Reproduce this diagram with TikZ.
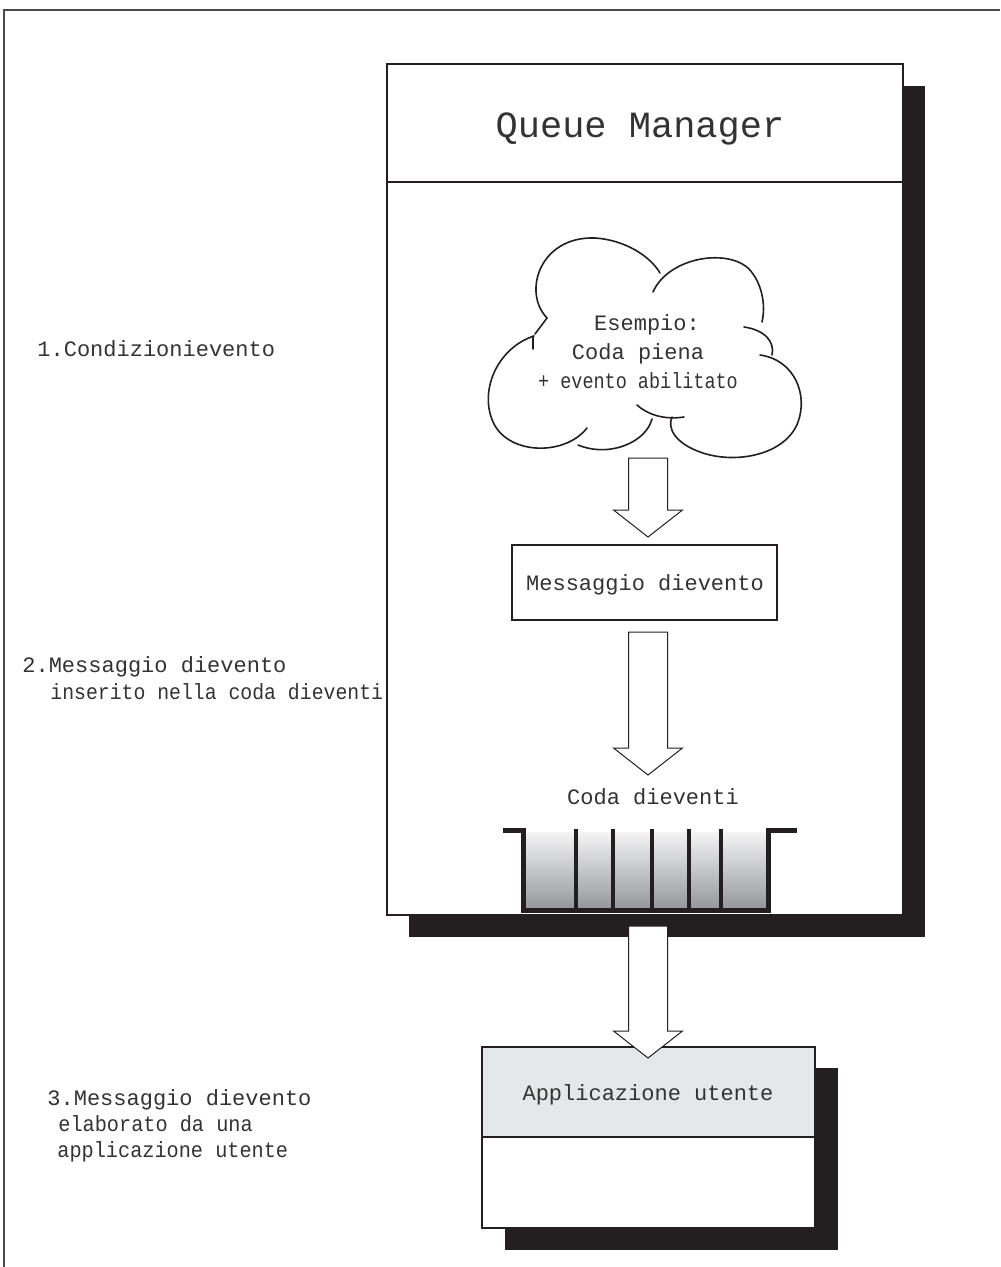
\documentclass[tikz,border=0pt]{standalone}
\usepackage{fontspec}
\setmainfont{Liberation Mono}
\newfontfamily\condA[FakeStretch=0.9]{Liberation Mono}
\newfontfamily\condB[FakeStretch=0.92]{Liberation Mono}
\newfontfamily\condC[FakeStretch=0.84]{Liberation Mono}
\usetikzlibrary{calc}
\definecolor{ink}{HTML}{231F20}
\definecolor{txt}{HTML}{333333}
\definecolor{appgray}{HTML}{E6E7E8}
\definecolor{qtop}{HTML}{F4F4F5}
\definecolor{qbot}{HTML}{939598}
\newcommand{\blkarrow}[2]{%
  \draw[blockarrow] ($(#1)+(-19.5,0)$) -- ($(#1)+(19.5,0)$) -- ($(#2)+(19.5,-27)$)
   -- ($(#2)+(34.5,-27)$) -- (#2) -- ($(#2)+(-34.5,-27)$) -- ($(#2)+(-19.5,-27)$) -- cycle;}
\begin{document}
\begin{tikzpicture}[x=0.5pt,y=-0.5pt,
  lbl/.style={font=\fontsize{11pt}{13pt}\selectfont, text=txt, inner sep=0pt},
  title/.style={font=\fontsize{18.5pt}{20pt}\selectfont, text=txt, inner sep=0pt},
  shadowbox/.style={fill=ink, draw=none},
  whitebox/.style={fill=white, draw=ink, line width=0.6pt},
  blockarrow/.style={fill=white, draw=ink, line width=0.5pt, line join=miter},
  cloudline/.style={draw=ink, line width=0.8pt, line cap=round},
  wall/.style={draw=ink, line width=2.5pt, line join=miter},
  divider/.style={draw=ink, line width=2pt},
  framel/.style={draw=black!70, line width=0.7pt}]
\useasboundingbox (0,0) rectangle (1000,1267);
\fill[white] (0,0) rectangle (1000,1267);
% outer frame
\draw[framel] (1000,10) -- (4,10) -- (4,1267);

% Queue manager box
\fill[shadowbox] (409,86) rectangle (925,937);
\draw[whitebox] (387,64) rectangle (903,915);
\draw[ink, line width=0.6pt] (387,182) -- (903,182);
\node[title, anchor=base] (qm) at (640,138) {Queue Manager};

% cloud
\draw[cloudline] (535,334) -- (547,318);
\draw[cloudline] (547,318) .. controls (522,292) and (540,236) .. (595,238)
   .. controls (625,240) and (650,256) .. (660,273);
\draw[cloudline] (653,292) .. controls (668,258) and (725,248) .. (748,268)
   .. controls (762,282) and (766,305) .. (762,322);
\draw[cloudline] (744,327) .. controls (765,330) and (775,342) .. (772,355);
\draw[cloudline] (760,355) .. controls (795,360) and (808,395) .. (798,422)
   .. controls (786,455) and (735,465) .. (700,452)
   .. controls (675,443) and (667,428) .. (672,417);
\draw[cloudline] (637,405) .. controls (648,415) and (665,420) .. (684,417);
\draw[cloudline] (652,419) .. controls (646,442) and (610,458) .. (578,445);
\draw[cloudline] (533,349) -- (533,336);
\draw[cloudline] (534,336) .. controls (497,348) and (478,392) .. (494,424)
   .. controls (510,455) and (565,456) .. (587,428);
\node[lbl, anchor=base] (c1) at (647,330) {Esempio:};
\node[lbl, anchor=base] (c2) at (638,359) {Coda piena};
\node[lbl, anchor=base] (c3) at (638,388) {\condC + evento abilitato};

% arrow 1 and message box
\coordinate (a1s) at (648,458);
\coordinate (a1e) at (648,537);
\blkarrow{a1s}{a1e}
\draw[whitebox] (512,545) rectangle (777,620);
\node[lbl, anchor=base] (msg) at (645,590) {Messaggio dievento};

% arrow 2
\coordinate (a2s) at (648,632);
\coordinate (a2e) at (648,775);
\blkarrow{a2s}{a2e}

% queue
\node[lbl, anchor=base] (coda) at (653,804) {Coda dieventi};
\shade[top color=qtop, bottom color=qbot] (523,832) rectangle (768,910);
\foreach \xx in {576,613,652,689,721} \draw[divider] (\xx,829) -- (\xx,910);
\draw[wall] (503,830) -- (523,830) -- (523,910) -- (768,910) -- (768,830) -- (797,830);

% application box
\fill[shadowbox] (505,1068) rectangle (838,1250);
\draw[whitebox] (482,1047) rectangle (815,1228);
\fill[appgray] (482,1047) rectangle (815,1137);
\draw[ink, line width=0.6pt] (482,1047) rectangle (815,1228);
\draw[ink, line width=0.6pt] (482,1137) -- (815,1137);
\node[lbl, anchor=base] (app) at (648,1100) {Applicazione utente};

% arrow 3
\coordinate (a3s) at (648,926);
\coordinate (a3e) at (648,1058);
\blkarrow{a3s}{a3e}

% left labels
\node[lbl, anchor=base west] (l1) at (37,357) {1.Condizionievento};
\node[lbl, anchor=base west] (l2a) at (22,672) {2.Messaggio dievento};
\node[lbl, anchor=base west] (l2b) at (50,699) {\condA inserito nella coda dieventi};
\node[lbl, anchor=base west] (l3a) at (47,1105) {3.Messaggio dievento};
\node[lbl, anchor=base west] (l3b) at (58,1131) {\condB elaborato da una};
\node[lbl, anchor=base west] (l3c) at (57,1157) {\condB applicazione utente};
\end{tikzpicture}
\end{document}
